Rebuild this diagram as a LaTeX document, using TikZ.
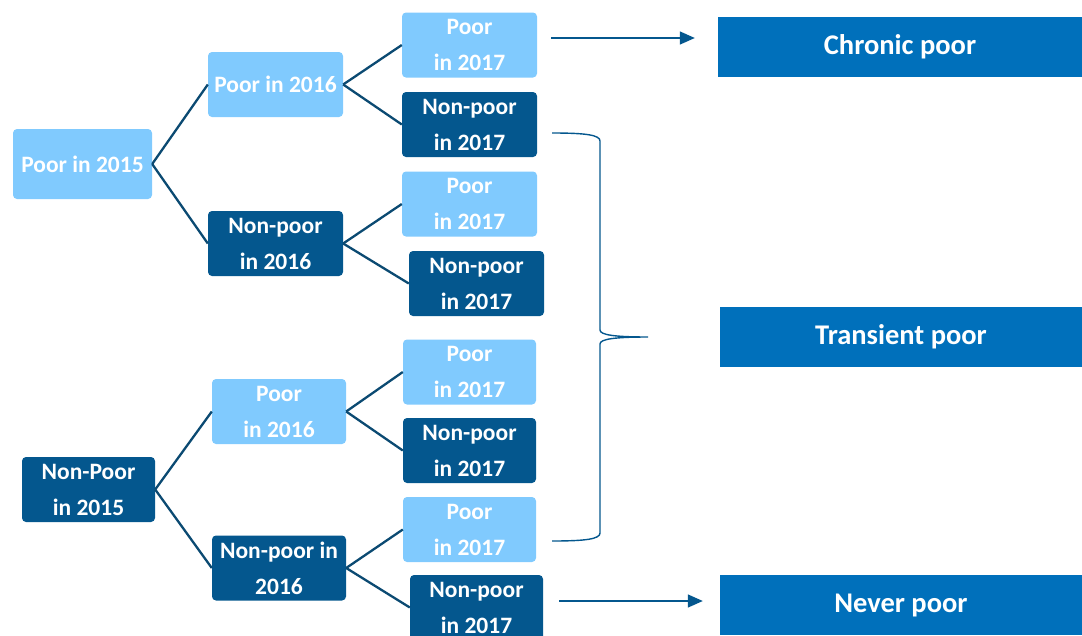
\documentclass[tikz,border=0pt]{standalone}
\usepackage{fontspec}
\setmainfont{Carlito}
\usepackage{xcolor}
\usetikzlibrary{arrows.meta}
\usetikzlibrary{calc}

\definecolor{lightbox}{HTML}{80CAFE}
\definecolor{darkbox}{HTML}{04578E}
\definecolor{outbox}{HTML}{0070BB}
\definecolor{linkcol}{HTML}{0B4A72}

\begin{document}
\begin{tikzpicture}[x=1pt, y=-1pt,
        box/.style={rounded corners=4pt, minimum width=135pt, minimum height=65pt, inner sep=0pt,
                    text=white, align=center, font=\fontsize{23.5}{36}\selectfont\bfseries},
        poorbox/.style={box, fill=lightbox},
        npbox/.style={box, fill=darkbox},
        outcome/.style={fill=outbox, minimum width=362pt, minimum height=60pt, inner sep=0pt,
                        text=white, font=\fontsize{28.5}{32}\selectfont\bfseries},
        link/.style={draw=linkcol, line width=2.3pt},
        arr/.style={draw=darkbox, line width=1.4pt, -{Triangle[length=15pt, width=13pt]}}
      ]
  \useasboundingbox (0,0) rectangle (1082,635);

  % 2015
  \node[poorbox, minimum width=139pt, minimum height=70pt] (p15) at (82.5,164) {Poor in 2015};
  \node[npbox, minimum width=133pt] (n15) at (88.5,489.5) {Non-Poor\\in 2015};

  % 2016
  \node[poorbox] (p15p16) at (275.5,84.5) {Poor in 2016};
  \node[npbox]   (p15n16) at (275.5,243.5) {Non-poor\\in 2016};
  \node[poorbox, minimum width=134pt] (n15p16) at (279,411.5) {Poor\\in 2016};
  \node[npbox, minimum width=134pt]   (n15n16) at (279,568) {Non-poor in\\2016};

  % 2017
  \node[poorbox] (y1) at (469.5,45)    {Poor\\in 2017};
  \node[npbox]   (y2) at (469.5,124.5) {Non-poor\\in 2017};
  \node[poorbox] (y3) at (469.5,204)   {Poor\\in 2017};
  \node[npbox]   (y4) at (476.5,283.5) {Non-poor\\in 2017};
  \node[poorbox, minimum width=133pt] (y5) at (469.5,372)   {Poor\\in 2017};
  \node[npbox, minimum width=133pt]   (y6) at (469.5,450.5) {Non-poor\\in 2017};
  \node[poorbox, minimum width=133pt] (y7) at (469.5,529.5) {Poor\\in 2017};
  \node[npbox, minimum width=133pt]   (y8) at (476.5,607.5) {Non-poor\\in 2017};

  % outcomes
  \node[outcome, minimum width=364pt] (chronic) at (900,47) {Chronic poor};
  \node[outcome] (transient) at (901,337) {Transient poor};
  \node[outcome] (never) at (901,605) {Never poor};

  % tree links
  \foreach \a/\b in {p15/p15p16, p15/p15n16, n15/n15p16, n15/n15n16,
                     p15p16/y1, p15p16/y2, p15n16/y3, p15n16/y4,
                     n15p16/y5, n15p16/y6, n15n16/y7, n15n16/y8} {
    \draw[link] (\a.east) -- (\b.west);
  }

  % arrows to outcomes
  \coordinate (c1) at ($(y1.east)+(14,-7)$);
  \coordinate (c2) at ($(chronic.west)+(-23,-9)$);
  \draw[arr] (c1) -- (c2);
  \coordinate (c3) at ($(y8.east)+(16,-6.5)$);
  \coordinate (c4) at ($(never.west)+(-17,-4)$);
  \draw[arr] (c3) -- (c4);

  % brace
  \draw[draw=darkbox, line width=1.4pt]
    (552,133) .. controls (586,133) and (600,135) .. (600,141) -- (600,330)
    .. controls (600,335) and (615,337) .. (648,337)
    .. controls (615,337) and (600,339) .. (600,344) -- (600,533)
    .. controls (600,539) and (586,541) .. (552,541);

\end{tikzpicture}
\end{document}
